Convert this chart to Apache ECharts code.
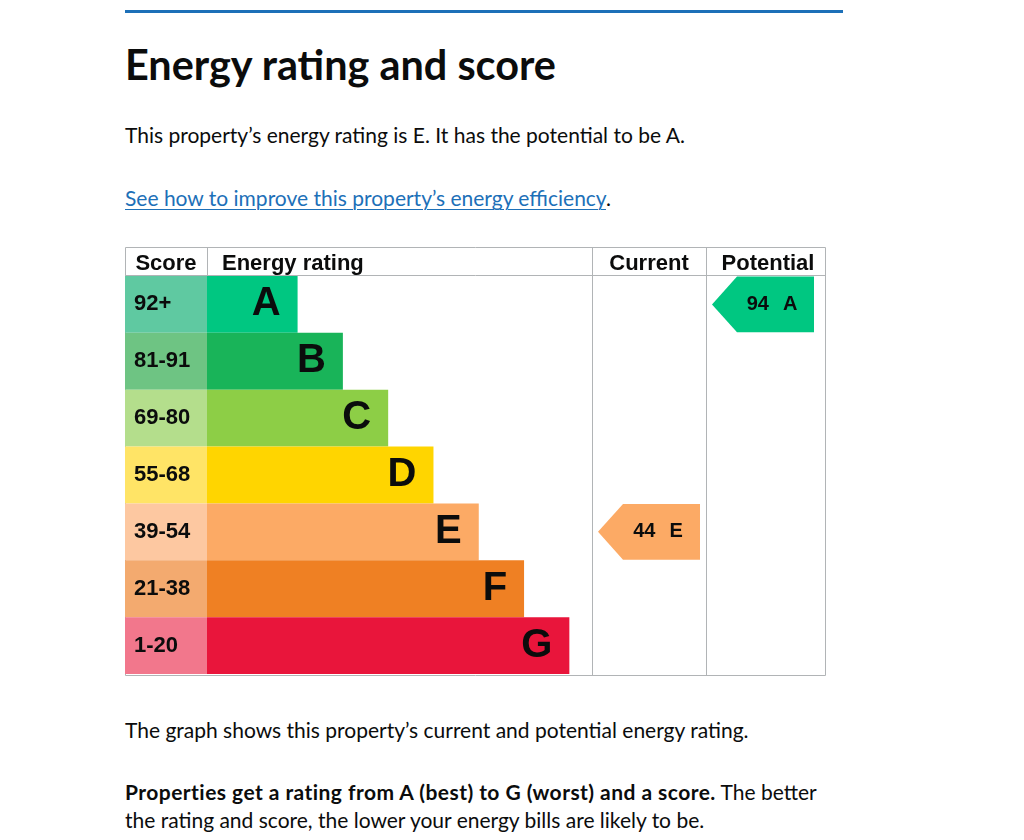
<!DOCTYPE html>
<html>
<head>
<meta charset="utf-8">
<title>Energy rating and score</title>
<script src="https://cdn.jsdelivr.net/npm/echarts@6/dist/echarts.min.js"></script>
<style>
  html, body { margin: 0; padding: 0; background: #fff; }
  body { width: 1024px; height: 840px; position: relative; overflow: hidden;
         font-family: Lato, "Noto Sans", sans-serif; color: #0b0c0c; }
  .rule { position: absolute; left: 125px; top: 10px; width: 718px; height: 3px; background: #1d70b8; }
  .txt { position: absolute; left: 125px; margin: 0; white-space: nowrap; font-size: 21px; line-height: 1; }
  h2.txt { top: 44px; font-size: 41.4px; font-weight: 700; }
  .lead { top: 124px; }
  .link { top: 187px; }
  .link a { color: #1d70b8; text-decoration: underline; text-underline-offset: 3px; text-decoration-thickness: 1px; }
  .note { top: 719px; }
  .bills { top: 778px; line-height: 28px; }
  .bills b { letter-spacing: 0.45px; }
  #chart { position: absolute; left: 125px; top: 247px; width: 701px; height: 429px; }
</style>
</head>
<body>
<div class="rule"></div>
<h2 class="txt">Energy rating and score</h2>
<p class="txt lead">This property’s energy rating is E. It has the potential to be A.</p>
<p class="txt link"><a href="#">See how to improve this property’s energy efficiency</a>.</p>
<div id="chart"></div>
<p class="txt note">The graph shows this property’s current and potential energy rating.</p>
<p class="txt bills"><b>Properties get a rating from A (best) to G (worst) and a score.</b> The better<br>the rating and score, the lower your energy bills are likely to be.</p>

<script>
// bands, top (best) to bottom (worst)
const bands = ['A', 'B', 'C', 'D', 'E', 'F', 'G']
const scoreRanges = ['92+', '81-91', '69-80', '55-68', '39-54', '21-38', '1-20']
const bandLength = [2, 3, 4, 5, 6, 7, 8]
const bandColors = ['#00c781', '#19b459', '#8dce46', '#ffd500', '#fcaa65', '#ef8023', '#e9153b']
const scoreColors = ['#5fc9a1', '#6ec483', '#b4de8c', '#ffe466', '#fdc8a1', '#f3aa6f', '#f2778c']
const headers = ['Score', 'Energy rating', 'Current', 'Potential']
const currentRating = ['E', 44]
const potentialRating = ['A', 94]

const FONT = '"Liberation Sans", Arial, sans-serif'
const INK = '#0b0c0c'
const LINE = '#b1b4b6'

const chartDom = document.getElementById('chart')
const myChart = echarts.init(chartDom)

// 4 columns of the table, each one its own grid
const cols = [
    { left: 0, width: 82 },
    { left: 82, width: 385 },
    { left: 467, width: 114 },
    { left: 581, width: 119 },
]

const grid = cols.map(c => ({ left: c.left, width: c.width, top: 29, height: 398 }))
const xAxis = cols.map((c, i) => ({
    type: 'value', gridIndex: i, min: 0, max: i === 1 ? 8.5 : 1, show: false,
}))
const yAxis = cols.map((c, i) => ({
    type: 'category', gridIndex: i, data: bands, inverse: true, show: false,
}))

// arrow for current / potential
const arrowItem = (params, api) => {
    const cs = params.coordSys
    const idx = api.value(1)
    const cy = api.coord([0, idx])[1]
    const h = api.size([0, 1])[1] - 1
    const left = cs.x + 6
    const right = left + 102
    const top = cy - h / 2
    const bottom = cy + h / 2
    const tip = 25
    return {
        type: 'group',
        children: [
            {
                type: 'polygon',
                shape: { points: [[left, cy], [left + tip, top], [right, top], [right, bottom], [left + tip, bottom]] },
                style: { fill: bandColors[idx] },
            },
            {
                type: 'text',
                x: left + 60,
                y: cy,
                style: {
                    text: '{n|' + api.value(2) + '}{l|' + bands[idx] + '}',
                    align: 'center',
                    verticalAlign: 'middle',
                    rich: {
                        n: { fontFamily: FONT, fontWeight: 'bold', fontSize: 20, fill: INK },
                        l: { fontFamily: FONT, fontWeight: 'bold', fontSize: 20, fill: INK, padding: [0, 0, 0, 14] },
                    },
                },
            },
        ],
    }
}

const headerPos = [
    { x: 41, align: 'center' },
    { x: 97, align: 'left' },
    { x: 524, align: 'center' },
    { x: 643, align: 'center' },
]

const lines = [
    [0.5, 0.5, 700.5, 0.5],
    [0.5, 28.5, 700.5, 28.5],
    [0.5, 428.5, 700.5, 428.5],
    [0.5, 0.5, 0.5, 428.5],
    [82.5, 0.5, 82.5, 28.5],
    [467.5, 0.5, 467.5, 428.5],
    [581.5, 0.5, 581.5, 428.5],
    [700.5, 0.5, 700.5, 428.5],
]

const option = {
    animation: false,
    grid,
    xAxis,
    yAxis,
    graphic: {
        elements: [
            ...lines.map(l => ({
                type: 'line', silent: true,
                shape: { x1: l[0], y1: l[1], x2: l[2], y2: l[3] },
                style: { stroke: LINE, lineWidth: 1 },
            })),
            ...headers.map((t, i) => ({
                type: 'text', silent: true, z: 10,
                x: headerPos[i].x, y: 16.5,
                style: {
                    text: t, fontFamily: FONT, fontWeight: 'bold', fontSize: 22, fill: INK,
                    align: headerPos[i].align, verticalAlign: 'middle',
                },
            })),
        ],
    },
    series: [
        {
            name: 'Score',
            type: 'bar',
            xAxisIndex: 0,
            yAxisIndex: 0,
            barCategoryGap: '0%',
            silent: true,
            data: scoreRanges.map((r, i) => ({ value: 1, itemStyle: { color: scoreColors[i] } })),
            label: {
                show: true,
                position: 'insideLeft',
                distance: 9,
                formatter: p => scoreRanges[p.dataIndex],
                fontFamily: FONT,
                fontWeight: 'bold',
                fontSize: 22,
                color: INK,
            },
        },
        {
            name: 'Energy rating',
            type: 'bar',
            xAxisIndex: 1,
            yAxisIndex: 1,
            barCategoryGap: '0%',
            silent: true,
            data: bandLength.map((v, i) => ({ value: v, itemStyle: { color: bandColors[i] } })),
            label: {
                show: true,
                position: 'insideRight',
                distance: 17,
                formatter: p => bands[p.dataIndex],
                fontFamily: FONT,
                fontWeight: 'bold',
                fontSize: 40,
                color: INK,
            },
        },
        {
            name: 'Current',
            type: 'custom',
            xAxisIndex: 2,
            yAxisIndex: 2,
            silent: true,
            encode: { x: 0, y: 1 },
            renderItem: arrowItem,
            data: [[0, bands.indexOf(currentRating[0]), currentRating[1]]],
        },
        {
            name: 'Potential',
            type: 'custom',
            xAxisIndex: 3,
            yAxisIndex: 3,
            silent: true,
            encode: { x: 0, y: 1 },
            renderItem: arrowItem,
            data: [[0, bands.indexOf(potentialRating[0]), potentialRating[1]]],
        },
    ],
}

option && myChart.setOption(option)
</script>
</body>
</html>
